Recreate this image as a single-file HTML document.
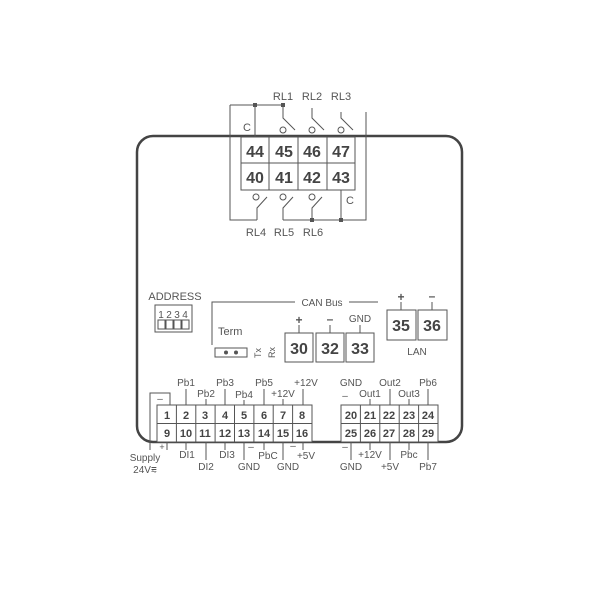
<!DOCTYPE html>
<html><head><style>html,body{margin:0;padding:0;background:#fff}svg{display:block}</style></head><body>
<svg width="600" height="600" viewBox="0 0 600 600" xmlns="http://www.w3.org/2000/svg" font-family="Liberation Sans, sans-serif" fill="none" stroke="#555" stroke-width="1">
<rect width="600" height="600" fill="#fff" stroke="none"/>
<!-- main box -->
<rect x="137" y="136" width="325" height="306" rx="16" stroke="#444" stroke-width="2.5" fill="#fff"/>
<!-- relay wiring -->
<path d="M230 105 V220 H257 M283 220 H366 V112 M230 105 H283 M255 105 V137 M283 105 V118 l12 12 M312 108 V118 l12 12 M341 112 V118 l12 12 M341 190 V220 M257 220 V208 l10 -11 M283 220 V208 l10 -11 M312 220 V208 l10 -11"/>
<g fill="#fff"><circle cx="283" cy="130" r="3"/><circle cx="312" cy="130" r="3"/><circle cx="341" cy="130" r="3"/><circle cx="256" cy="197" r="3"/><circle cx="283" cy="197" r="3"/><circle cx="312" cy="197" r="3"/></g>
<g fill="#555" stroke="none"><rect x="253" y="103" width="4" height="4"/><rect x="281" y="103" width="4" height="4"/><rect x="310" y="218" width="4" height="4"/><rect x="339" y="218" width="4" height="4"/></g>
<rect x="241" y="137" width="114" height="53" fill="#fff"/>
<path d="M241 163 H355 M269 137 V190 M298 137 V190 M327 137 V190"/>
<g fill="#444" stroke="none" font-size="16" font-weight="bold" text-anchor="middle">
<text x="255" y="157">44</text><text x="284" y="157">45</text><text x="312" y="157">46</text><text x="341" y="157">47</text>
<text x="255" y="183">40</text><text x="284" y="183">41</text><text x="312" y="183">42</text><text x="341" y="183">43</text></g>
<g fill="#555" stroke="none" font-size="11" text-anchor="middle">
<text x="247" y="131">C</text><text x="350" y="204">C</text>
<text x="283" y="100">RL1</text><text x="312" y="100">RL2</text><text x="341" y="100">RL3</text>
<text x="256" y="236">RL4</text><text x="284" y="236">RL5</text><text x="313" y="236">RL6</text></g>
<!-- address -->
<text x="175" y="300" fill="#555" stroke="none" font-size="11" text-anchor="middle">ADDRESS</text>
<rect x="155" y="305" width="37" height="27"/>
<g fill="#555" stroke="none" font-size="10" text-anchor="middle"><text x="161" y="318">1</text><text x="169" y="318">2</text><text x="177" y="318">3</text><text x="185" y="318">4</text></g>
<rect x="158" y="320" width="7" height="9"/><rect x="166" y="320" width="7" height="9"/><rect x="174" y="320" width="7" height="9"/><rect x="182" y="320" width="7" height="9"/>
<!-- CAN -->
<path d="M212 345 V302 H295 M349 302 H378"/>
<text x="322" y="306" fill="#555" stroke="none" font-size="10" text-anchor="middle">CAN Bus</text>
<text x="218" y="335" fill="#555" stroke="none" font-size="11">Term</text>
<rect x="215" y="348" width="32" height="9"/>
<circle cx="226" cy="352.5" r="2" fill="#555" stroke="none"/><circle cx="236" cy="352.5" r="2" fill="#555" stroke="none"/>
<g fill="#555" stroke="none" font-size="9"><text transform="translate(261,358) rotate(-90)">Tx</text><text transform="translate(275,358) rotate(-90)">Rx</text></g>
<rect x="285" y="333" width="28" height="29"/><rect x="316" y="333" width="28" height="29"/><rect x="346" y="333" width="28" height="29"/>
<path d="M299 325 V333 M330 325 V333 M360 325 V333 M401 302 V310 M432 302 V310"/>
<rect x="387" y="310" width="29" height="30"/><rect x="418" y="310" width="29" height="30"/>
<g fill="#444" stroke="none" font-size="16" font-weight="bold" text-anchor="middle">
<text x="299" y="354">30</text><text x="330" y="354">32</text><text x="360" y="354">33</text><text x="401" y="331">35</text><text x="432" y="331">36</text></g>
<g fill="#555" stroke="none" font-size="12" font-weight="bold" text-anchor="middle"><text x="299" y="324">+</text><text x="330" y="323">–</text><text x="401" y="301">+</text><text x="432" y="300">–</text></g>
<g fill="#555" stroke="none" font-size="10" text-anchor="middle"><text x="360" y="322">GND</text><text x="417" y="355">LAN</text></g>
<!-- supply bracket -->
<path d="M150 450 V393 H170 V405"/>
<!-- left terminal block -->
<rect x="157" y="405" width="155" height="37" fill="#fff"/>
<path d="M157 423.5 H312 M176.4 405 V442 M195.8 405 V442 M215.1 405 V442 M234.5 405 V442 M253.9 405 V442 M273.2 405 V442 M292.6 405 V442"/>
<rect x="341" y="405" width="97" height="37" fill="#fff"/>
<path d="M341 423.5 H438 M360.4 405 V442 M379.8 405 V442 M399.2 405 V442 M418.6 405 V442"/>
<g fill="#444" stroke="none" font-size="11" font-weight="bold" text-anchor="middle">
<text x="167" y="419">1</text><text x="186" y="419">2</text><text x="205" y="419">3</text><text x="225" y="419">4</text><text x="244" y="419">5</text><text x="264" y="419">6</text><text x="283" y="419">7</text><text x="302" y="419">8</text>
<text x="167" y="437">9</text><text x="186" y="437">10</text><text x="205" y="437">11</text><text x="225" y="437">12</text><text x="244" y="437">13</text><text x="264" y="437">14</text><text x="283" y="437">15</text><text x="302" y="437">16</text>
<text x="351" y="419">20</text><text x="370" y="419">21</text><text x="389" y="419">22</text><text x="409" y="419">23</text><text x="428" y="419">24</text>
<text x="351" y="437">25</text><text x="370" y="437">26</text><text x="389" y="437">27</text><text x="409" y="437">28</text><text x="428" y="437">29</text></g>
<!-- ticks -->
<path d="M186 389 V405 M206 399 V405 M225 389 V405 M244 400 V405 M264 389 V405 M283 399 V405 M303 389 V405
M167 442 V450 M186 442 V450 M206 442 V460 M225 442 V450 M244 442 V460 M264 442 V450 M283 442 V460 M303 442 V450
M370 399 V405 M390 389 V405 M409 399 V405 M428 389 V405 M351 442 V460 M370 442 V450 M390 442 V460 M409 442 V450 M428 442 V460"/>
<g fill="#555" stroke="none" font-size="10" text-anchor="middle">
<text x="186" y="386">Pb1</text><text x="206" y="397">Pb2</text><text x="225" y="386">Pb3</text><text x="244" y="398">Pb4</text><text x="264" y="386">Pb5</text><text x="283" y="397">+12V</text><text x="306" y="386">+12V</text>
<text x="160" y="402">–</text>
<text x="162" y="450" font-size="9">+</text>
<text x="145" y="461">Supply</text><text x="145" y="473">24V⩳</text>
<text x="187" y="458">DI1</text><text x="206" y="470">DI2</text><text x="227" y="458">DI3</text><text x="249" y="470">GND</text><text x="251" y="450">–</text><text x="268" y="459">PbC</text><text x="288" y="470">GND</text><text x="293" y="449">–</text><text x="306" y="459">+5V</text>
<text x="351" y="386">GND</text><text x="345" y="399">–</text><text x="370" y="397">Out1</text><text x="390" y="386">Out2</text><text x="409" y="397">Out3</text><text x="428" y="386">Pb6</text>
<text x="345" y="450">–</text><text x="351" y="470">GND</text><text x="370" y="458">+12V</text><text x="390" y="470">+5V</text><text x="409" y="458">Pbc</text><text x="428" y="470">Pb7</text>
</g>
</svg>
</body></html>
